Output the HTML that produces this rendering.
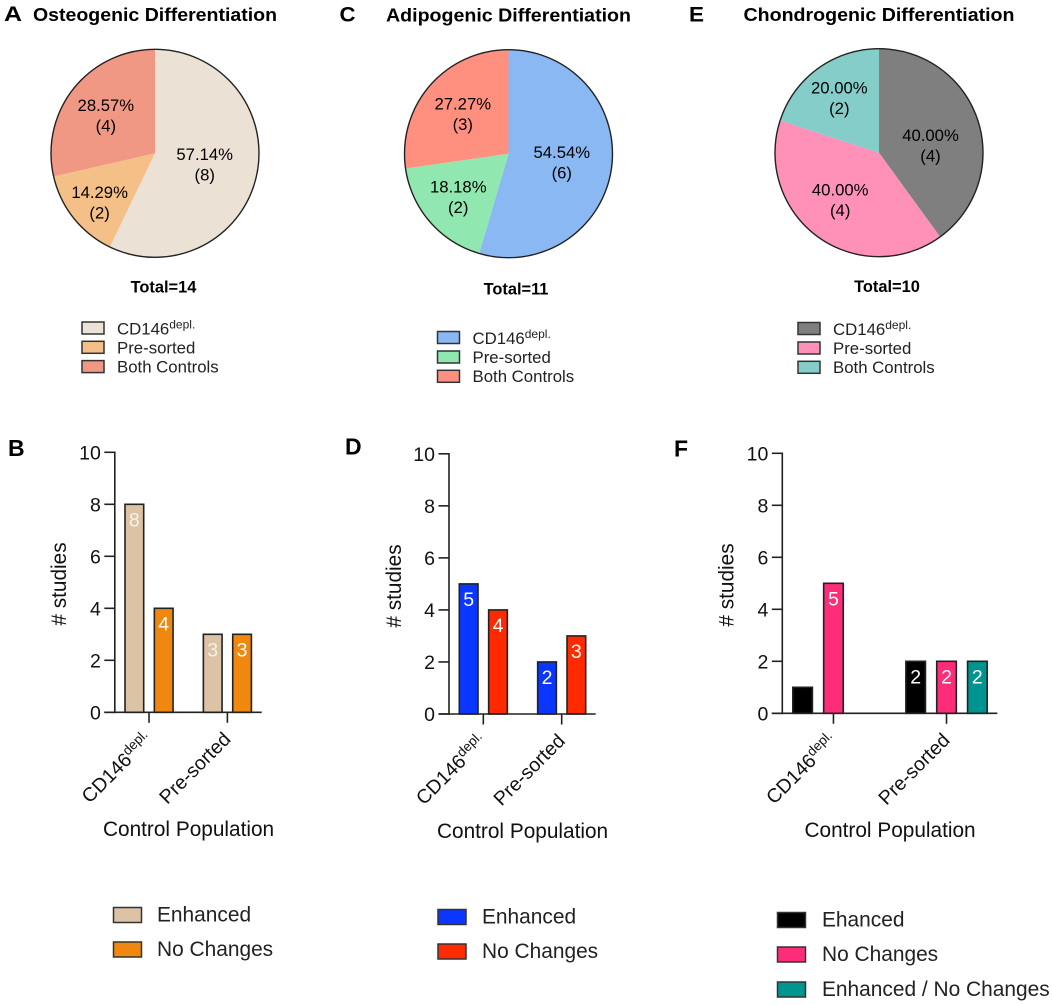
<!DOCTYPE html>
<html lang="en">
<head>
<meta charset="utf-8">
<title>Control population differentiation charts</title>
<style>
html,body{margin:0;padding:0;background:#fff;}
svg{display:block;font-family:"Liberation Sans",Arial,sans-serif;}
text{fill:#111;}
.title{font-size:18.4px;font-weight:bold;fill:#000;}
.letter{font-size:23px;font-weight:bold;fill:#000;}
.letter-top{font-size:21px;font-weight:bold;fill:#000;}
.total{font-size:16.4px;font-weight:bold;fill:#000;text-anchor:middle;}
.lg{font-size:16.8px;fill:#222;}
.lg tspan{font-size:12px;}
.lg2{font-size:20.9px;fill:#222;}
.axt{font-size:20.8px;fill:#111;}
.sw{stroke:#333;stroke-width:1.5;}
</style>
</head>
<body>
<svg id="figure" xmlns="http://www.w3.org/2000/svg" width="1052" height="1005" viewBox="0 0 1052 1005">
  <rect x="0" y="0" width="1052" height="1005" fill="#fff"/>

  <text class="letter-top" x="4" y="21" textLength="18" lengthAdjust="spacingAndGlyphs">A</text>
  <text class="letter-top" x="339.5" y="21.3" textLength="16" lengthAdjust="spacingAndGlyphs">C</text>
  <text class="letter-top" x="689" y="21.3" textLength="15" lengthAdjust="spacingAndGlyphs">E</text>
  <text class="letter" x="8" y="456">B</text>
  <text class="letter" x="345" y="454.5">D</text>
  <text class="letter" x="674" y="456.5">F</text>

  <text class="title" x="33" y="21" textLength="244" lengthAdjust="spacingAndGlyphs">Osteogenic Differentiation</text>
  <text class="title" x="386" y="21.5" textLength="245" lengthAdjust="spacingAndGlyphs">Adipogenic Differentiation</text>
  <text class="title" x="743.5" y="21" textLength="271" lengthAdjust="spacingAndGlyphs">Chondrogenic Differentiation</text>

  <g id="pie-a"></g>
  <g id="pie-c"></g>
  <g id="pie-e"></g>

  <text class="total" x="163.5" y="292.5">Total=14</text>
  <text class="total" x="516" y="294.5">Total=11</text>
  <text class="total" x="887" y="292">Total=10</text>

  <g>
    <rect class="sw" x="82" y="322" width="22" height="12" fill="#ebe1d4"/>
    <text class="lg" x="117" y="334.5">CD146<tspan dy="-6">depl.</tspan></text>
    <rect class="sw" x="82" y="341.3" width="22" height="12" fill="#f4c088"/>
    <text class="lg" x="117" y="353.5">Pre-sorted</text>
    <rect class="sw" x="82" y="360.6" width="22" height="12" fill="#f09884"/>
    <text class="lg" x="117" y="372.5">Both Controls</text>
  </g>
  <g>
    <rect class="sw" x="437.5" y="331.5" width="22" height="12" fill="#8ab8f2"/>
    <text class="lg" x="472.5" y="344">CD146<tspan dy="-6">depl.</tspan></text>
    <rect class="sw" x="437.5" y="351" width="22" height="12" fill="#90e8b0"/>
    <text class="lg" x="472.5" y="363">Pre-sorted</text>
    <rect class="sw" x="437.5" y="370.3" width="22" height="12" fill="#ff9080"/>
    <text class="lg" x="472.5" y="382">Both Controls</text>
  </g>
  <g>
    <rect class="sw" x="798" y="322.5" width="22" height="12" fill="#7f7f7f"/>
    <text class="lg" x="833" y="335">CD146<tspan dy="-6">depl.</tspan></text>
    <rect class="sw" x="798" y="342" width="22" height="12" fill="#ff90b8"/>
    <text class="lg" x="833" y="354">Pre-sorted</text>
    <rect class="sw" x="798" y="361.3" width="22" height="12" fill="#84cdc9"/>
    <text class="lg" x="833" y="373">Both Controls</text>
  </g>

  <g id="bar-b"></g>
  <g id="bar-d"></g>
  <g id="bar-f"></g>

  <text class="axt" text-anchor="middle" transform="translate(66,584) rotate(-90)"># studies</text>
  <text class="axt" text-anchor="middle" transform="translate(401,586) rotate(-90)"># studies</text>
  <text class="axt" text-anchor="middle" transform="translate(733.5,585) rotate(-90)"># studies</text>
  <text class="axt" x="103" y="836">Control Population</text>
  <text class="axt" x="437" y="838">Control Population</text>
  <text class="axt" x="804.5" y="837">Control Population</text>

  <g>
    <rect class="sw" x="113.5" y="907.5" width="28" height="15" fill="#dcc3a5"/>
    <text class="lg2" x="157" y="921.5">Enhanced</text>
    <rect class="sw" x="113.5" y="942" width="28" height="15" fill="#f0880f"/>
    <text class="lg2" x="157" y="956">No Changes</text>
  </g>
  <g>
    <rect class="sw" x="438" y="909.5" width="28" height="15" fill="#0a36ff"/>
    <text class="lg2" x="482" y="923.5">Enhanced</text>
    <rect class="sw" x="438" y="944" width="28" height="15" fill="#ff2a00"/>
    <text class="lg2" x="482" y="958">No Changes</text>
  </g>
  <g>
    <rect class="sw" x="777.5" y="912.5" width="28" height="15" fill="#000"/>
    <text class="lg2" x="822" y="926.5">Ehanced</text>
    <rect class="sw" x="777.5" y="947" width="28" height="15" fill="#ff2c7a"/>
    <text class="lg2" x="822" y="961">No Changes</text>
    <rect class="sw" x="777.5" y="982" width="28" height="15" fill="#009490"/>
    <text class="lg2" x="822" y="996">Enhanced / No Changes</text>
  </g>
</svg>

<script>
// ---------- data ----------
const pieNames = ['cd146', 'pre-sorted', 'both-controls'];
const pieOsteoCounts = [8, 2, 4];
const pieOsteoPercents = ['57.14%', '14.29%', '28.57%'];
const pieAdipoCounts = [6, 2, 3];
const pieAdipoPercents = ['54.54%', '18.18%', '27.27%'];
const pieChondroCounts = [4, 4, 2];
const pieChondroPercents = ['40.00%', '40.00%', '20.00%'];

const yTickLabels = [0, 2, 4, 6, 8, 10];
const barCategories = ['CD146^depl.', 'Pre-sorted'];

const osteoEnhanced = [8, 3];
const osteoNoChanges = [4, 3];
const adipoEnhanced = [5, 2];
const adipoNoChanges = [4, 3];
const chondroEnhanced = [1, 2];
const chondroNoChanges = [5, 2];
const chondroBoth = [null, 2];
// printed values on the bars (the single black bar in panel F has none)
const chondroEnhancedLabels = ['', '2'];

// ---------- helpers ----------
const NS = 'http://www.w3.org/2000/svg';
function make(parent, tag) {
  const el = document.createElementNS(NS, tag);
  parent.appendChild(el);
  return el;
}

function drawPie(target, counts, percents, colors, geo) {
  const root = document.getElementById(target);
  const total = counts.reduce((a, b) => a + b, 0);
  const angleScale = v => v / total * 2 * Math.PI;
  const polar = (a, r) => [geo.cx + r * Math.sin(a), geo.cy - r * Math.cos(a)];
  let start = 0;
  counts.forEach((v, i) => {
    const sweep = angleScale(v);
    const end = start + sweep;
    const p0 = polar(start, geo.r);
    const p1 = polar(end, geo.r);
    const large = sweep > Math.PI ? 1 : 0;
    const slice = make(root, 'path');
    
    
    slice.setAttribute('d', `M${geo.cx} ${geo.cy}L${p0[0]} ${p0[1]}A${geo.r} ${geo.r} 0 ${large} 1 ${p1[0]} ${p1[1]}Z`);
    slice.setAttribute('fill', colors[i]);
    start = end;
  });
  const ring = make(root, 'circle');
  
  
  ring.setAttribute('cx', geo.cx);
  ring.setAttribute('cy', geo.cy);
  ring.setAttribute('r', geo.r);
  ring.setAttribute('fill', 'none');
  ring.setAttribute('stroke', '#222');
  ring.setAttribute('stroke-width', '1.4');
  start = 0;
  counts.forEach((v, i) => {
    const sweep = angleScale(v);
    const mid = start + sweep / 2 + geo.turn[i] * Math.PI / 180;
    const c = polar(mid, geo.reach[i]);
    const pct = make(root, 'text');
    
    
    pct.setAttribute('x', c[0]);
    pct.setAttribute('y', c[1] - 4.5);
    pct.setAttribute('text-anchor', 'middle');
    pct.setAttribute('font-size', '16.7');
    pct.setAttribute('style', 'fill:#000');
    pct.textContent = percents[i];
    const cnt = make(root, 'text');
    
    
    cnt.setAttribute('x', c[0]);
    cnt.setAttribute('y', c[1] + 16);
    cnt.setAttribute('text-anchor', 'middle');
    cnt.setAttribute('font-size', '16.7');
    cnt.setAttribute('style', 'fill:#000');
    cnt.textContent = '(' + v + ')';
    start += sweep;
  });
}

function drawBars(target, series, geo) {
  const root = document.getElementById(target);
  const yScale = v => geo.y0 - v * (geo.y0 - geo.y10) / 10;
  const xScale = (g, s) => geo.left + (g * geo.span + s) * geo.step;
  const groupCenter = g => xScale(g, (series.length - 1) / 2) + geo.barW / 2;

  series.forEach(ser => {
    ser.values.forEach((v, g) => {
      if (v === null) return;
      const s = series.indexOf(ser);
      const x = xScale(g, s);
      const bar = make(root, 'rect');
      
      
      bar.setAttribute('x', x);
      bar.setAttribute('y', yScale(v));
      bar.setAttribute('width', geo.barW);
      bar.setAttribute('height', geo.y0 - yScale(v));
      bar.setAttribute('fill', ser.color);
      bar.setAttribute('stroke', '#222');
      bar.setAttribute('stroke-width', '1.6');
      const printed = ser.labels ? ser.labels[g] : String(v);
      if (printed) {
        const lab = make(root, 'text');
        
        
        lab.setAttribute('x', x + geo.barW / 2);
        lab.setAttribute('y', yScale(v) + 22);
        lab.setAttribute('text-anchor', 'middle');
        lab.setAttribute('font-size', '19.5');
        lab.setAttribute('style', 'fill:' + (ser.labelColor || '#fff'));
        lab.textContent = printed;
      }
    });
  });

  const yAxis = make(root, 'line');
  
  
  yAxis.setAttribute('x1', geo.axisX);
  yAxis.setAttribute('x2', geo.axisX);
  yAxis.setAttribute('y1', yScale(10) - 0.8);
  yAxis.setAttribute('y2', geo.y0 + 0.8);
  yAxis.setAttribute('stroke', '#222');
  yAxis.setAttribute('stroke-width', '1.6');

  const xAxis = make(root, 'line');
  
  
  xAxis.setAttribute('x1', geo.axisX - 10.5);
  xAxis.setAttribute('x2', geo.axisEnd);
  xAxis.setAttribute('y1', geo.y0);
  xAxis.setAttribute('y2', geo.y0);
  xAxis.setAttribute('stroke', '#222');
  xAxis.setAttribute('stroke-width', '1.6');

  yTickLabels.forEach(t => {
    const tick = make(root, 'line');
    
    
    tick.setAttribute('x1', geo.axisX - 10.5);
    tick.setAttribute('x2', geo.axisX);
    tick.setAttribute('y1', yScale(t));
    tick.setAttribute('y2', yScale(t));
    tick.setAttribute('stroke', '#222');
    tick.setAttribute('stroke-width', '1.6');
    const lab = make(root, 'text');
    
    
    lab.setAttribute('x', geo.axisX - 14);
    lab.setAttribute('y', yScale(t) + 7);
    lab.setAttribute('text-anchor', 'end');
    lab.setAttribute('font-size', '19.5');
    lab.textContent = t;
  });

  barCategories.forEach((c, g) => {
    const x = groupCenter(g);
    const tick = make(root, 'line');
    
    
    tick.setAttribute('x1', x);
    tick.setAttribute('x2', x);
    tick.setAttribute('y1', geo.y0);
    tick.setAttribute('y2', geo.y0 + 10.5);
    tick.setAttribute('stroke', '#222');
    tick.setAttribute('stroke-width', '1.6');
    const parts = c.split('^');
    const lab = make(root, 'text');
    
    
    lab.setAttribute('text-anchor', 'end');
    lab.setAttribute('font-size', '19.6');
    lab.setAttribute('transform', `translate(${x + 4.5},${geo.y0 + 28}) rotate(-45)`);
    lab.textContent = parts[0];
    if (parts[1]) {
      const sup = make(lab, 'tspan');
      
      
      sup.setAttribute('dy', '-7');
      sup.setAttribute('font-size', '13.5');
      sup.textContent = parts[1];
    }
  });
}

// ---------- panels ----------
drawPie('pie-a', pieOsteoCounts, pieOsteoPercents, ['#ebe1d4', '#f4c088', '#f09884'],
  {cx: 155, cy: 153.3, r: 104, reach: [51, 74, 62], turn: [0, -3, -1]});
drawPie('pie-c', pieAdipoCounts, pieAdipoPercents, ['#8ab8f2', '#90e8b0', '#ff9080'],
  {cx: 508.5, cy: 153.7, r: 104, reach: [54, 66.5, 60.5], turn: [1, 0, 0]});
drawPie('pie-e', pieChondroCounts, pieChondroPercents, ['#7f7f7f', '#ff90b8', '#84cdc9'],
  {cx: 879, cy: 152.7, r: 104, reach: [52, 61, 67.5], turn: [10, 3.5, 0]});

drawBars('bar-b', [
  {name: 'enhanced', values: osteoEnhanced, color: '#dcc3a5', labelColor: '#f6f1ea'},
  {name: 'no-changes', values: osteoNoChanges, color: '#f0880f'}
], {y0: 712.3, y10: 452.3, axisX: 114.8, axisEnd: 261.7, left: 125, step: 29.35, span: 2.67, barW: 18.7});

drawBars('bar-d', [
  {name: 'enhanced', values: adipoEnhanced, color: '#0a36ff'},
  {name: 'no-changes', values: adipoNoChanges, color: '#ff2a00'}
], {y0: 714, y10: 453.8, axisX: 449, axisEnd: 595.7, left: 459.3, step: 29.35, span: 2.67, barW: 18.7});

drawBars('bar-f', [
  {name: 'enhanced', values: chondroEnhanced, color: '#000', labels: chondroEnhancedLabels},
  {name: 'no-changes', values: chondroNoChanges, color: '#ff2c7a'},
  {name: 'enhanced-no-changes', values: chondroBoth, color: '#009490'}
], {y0: 713.3, y10: 453.3, axisX: 782.3, axisEnd: 997.3, left: 792.8, step: 30.85, span: 3.665, barW: 19.6});
</script>
</body>
</html>
